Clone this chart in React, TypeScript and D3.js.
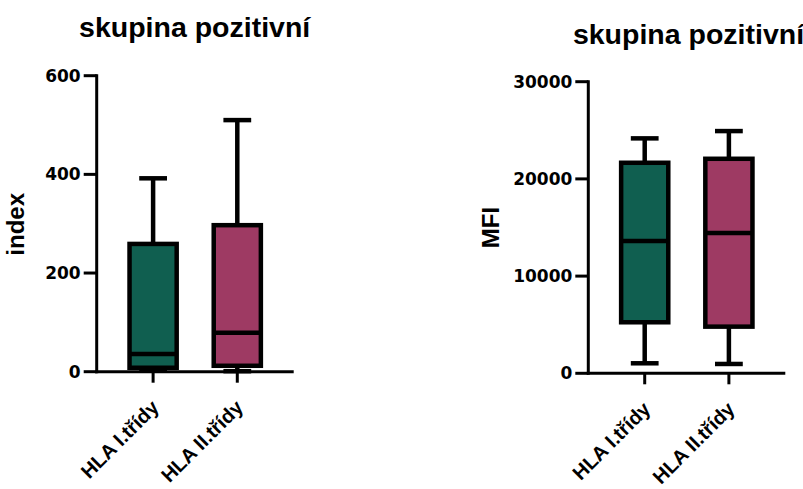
import React from 'react';
import * as d3 from 'd3';

// categories and box statistics (min, q1, median, q3, max)
const categories = ['HLA I.třídy', 'HLA II.třídy'];
const fills = ['#105f50', '#9e3a63'];

const indexMin = [2, 1];
const indexQ1 = [8, 12];
const indexMedian = [36, 79];
const indexQ3 = [259, 297];
const indexMax = [392, 510];
const indexTicks = [0, 200, 400, 600];

const mfiMin = [1030, 960];
const mfiQ1 = [5250, 4800];
const mfiMedian = [13600, 14430];
const mfiQ3 = [21660, 22070];
const mfiMax = [24170, 24920];
const mfiTicks = [0, 10000, 20000, 30000];

const FONT = '"Liberation Sans", Arial, sans-serif';
const NUM_FONT = '"DejaVu Sans", sans-serif';

type PanelProps = {
  left: number;
  top: number;
  bottom: number;
  width: number;
  yMax: number;
  ticks: number[];
  yLabel: string;
  title: string;
  titleX: number;
  titleY: number;
  yLabelX: number;
  yLabelY: number;
  stats: number[][];
};

const Panel = ({ left, top, bottom, width, yMax, ticks, yLabel, title, titleX, titleY, yLabelX, yLabelY, stats }: PanelProps) => {
  const y = d3.scaleLinear().domain([0, yMax]).range([bottom, top]);
  const x = d3.scalePoint<string>().domain(categories).range([left, left + width]).padding(0.67);
  const boxW = x.step() * 0.56;
  const capW = x.step() * 0.33;
  const [mins, q1s, meds, q3s, maxs] = stats;
  const sw = 4.5;

  return (
    <g>
      <text x={titleX} y={titleY} textAnchor="middle" fontFamily={FONT} fontWeight="bold" fontSize={28.5}>{title}</text>
      <text transform={`translate(${yLabelX},${yLabelY}) rotate(-90)`} textAnchor="middle"
        fontFamily={FONT} fontWeight="bold" fontSize={24}>{yLabel}</text>

      {categories.map((c, i) => {
        const cx = x(c) as number;
        return (
          <g key={c}>
            <line x1={cx} x2={cx} y1={y(maxs[i])} y2={y(q3s[i])} stroke="#000" strokeWidth={sw} />
            <line x1={cx} x2={cx} y1={y(q1s[i])} y2={y(mins[i])} stroke="#000" strokeWidth={sw} />
            <line x1={cx - capW / 2} x2={cx + capW / 2} y1={y(maxs[i])} y2={y(maxs[i])} stroke="#000" strokeWidth={sw} />
            <line x1={cx - capW / 2} x2={cx + capW / 2} y1={y(mins[i])} y2={y(mins[i])} stroke="#000" strokeWidth={sw} />
            <rect x={cx - boxW / 2} width={boxW} y={y(q3s[i])} height={y(q1s[i]) - y(q3s[i])}
              fill={fills[i]} stroke="#000" strokeWidth={sw} />
            <line x1={cx - boxW / 2} x2={cx + boxW / 2} y1={y(meds[i])} y2={y(meds[i])} stroke="#000" strokeWidth={sw} />
            <line x1={cx} x2={cx} y1={bottom} y2={bottom + 11} stroke="#000" strokeWidth={3} />
            <text transform={`translate(${cx + 7},${bottom + 37}) rotate(-45)`} textAnchor="end"
              fontFamily={FONT} fontWeight="bold" fontSize={20}>{c}</text>
          </g>
        );
      })}

      <line x1={left} x2={left} y1={top - 1.5} y2={bottom + 1.5} stroke="#000" strokeWidth={3} />
      <line x1={left - 1.5} x2={left + width} y1={bottom} y2={bottom} stroke="#000" strokeWidth={3} />
      {ticks.map(t => (
        <g key={t}>
          <line x1={left - 13} x2={left} y1={y(t)} y2={y(t)} stroke="#000" strokeWidth={3} />
          <text x={left - 16} y={y(t)} dy="0.36em" textAnchor="end" fontFamily={NUM_FONT} fontWeight="bold" fontSize={17}>{t}</text>
        </g>
      ))}
    </g>
  );
};

export default function App() {
  return (
    <svg width={803} height={489} style={{ display: 'block', position: 'absolute', left: 0, top: 0, background: '#fff' }}>
      <Panel left={96.7} top={75.7} bottom={371.7} width={197} yMax={600} ticks={indexTicks}
        yLabel="index" title="skupina pozitivní" titleX={194.7} titleY={37} yLabelX={23.5} yLabelY={224.3}
        stats={[indexMin, indexQ1, indexMedian, indexQ3, indexMax]} />
      <Panel left={588.3} top={81.7} bottom={373.3} width={197} yMax={30000} ticks={mfiTicks}
        yLabel="MFI" title="skupina pozitivní" titleX={688.5} titleY={43.5} yLabelX={498.5} yLabelY={227.5}
        stats={[mfiMin, mfiQ1, mfiMedian, mfiQ3, mfiMax]} />
    </svg>
  );
}
